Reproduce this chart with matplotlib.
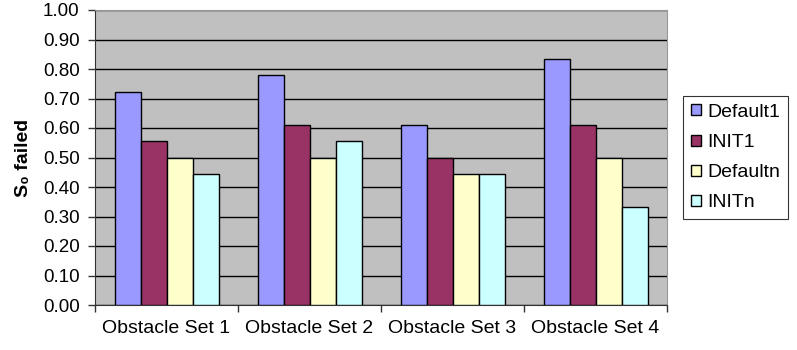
import numpy as np
import matplotlib
matplotlib.use('Agg')
import matplotlib.pyplot as plt
from matplotlib.patches import Patch

plt.rcParams['font.family'] = ['Liberation Sans', 'DejaVu Sans']
plt.rcParams['font.size'] = 10

categories = ['Obstacle Set 1', 'Obstacle Set 2', 'Obstacle Set 3', 'Obstacle Set 4']
series_names = ['Default1', 'INIT1', 'Defaultn', 'INITn']
default1 = [0.722, 0.778, 0.611, 0.833]
init1    = [0.556, 0.611, 0.500, 0.611]
defaultn = [0.500, 0.500, 0.444, 0.500]
initn    = [0.444, 0.556, 0.444, 0.333]
y_ticks  = [0.0, 0.1, 0.2, 0.3, 0.4, 0.5, 0.6, 0.7, 0.8, 0.9, 1.0]

colors = ['#9999FF', '#993366', '#FFFFCC', '#CCFFFF']
series = [default1, init1, defaultn, initn]

W, H = 797, 350
fig = plt.figure(figsize=(W / 100, H / 100), dpi=100)
ax = fig.add_axes([95 / W, 1 - 305 / H, 572 / W, 295 / H])
ax.set_facecolor('#C0C0C0')

x = np.arange(len(categories))
bw = 1 / 5.5
for i, (vals, c) in enumerate(zip(series, colors)):
    ax.bar(x + (i - 1.5) * bw, vals, width=bw, color=c,
           edgecolor='black', linewidth=1, zorder=3)

ax.set_xlim(-0.5, len(categories) - 0.5)
ax.set_ylim(0, 1.0)
ax.set_yticks(y_ticks)
ax.set_yticklabels([f'{v:.2f}' for v in y_ticks], fontsize=13.5)
ax.yaxis.grid(True, color='black', linewidth=1, zorder=1)
ax.set_axisbelow(True)

ax.set_xticks(x)
ax.set_xticklabels(categories, fontsize=14)
ax.tick_params(axis='x', which='major', length=0, pad=11)
ax.set_xticks(np.arange(-0.5, len(categories)), minor=True)
ax.tick_params(axis='x', which='minor', length=5, width=1, color='#333333')
ax.tick_params(axis='y', length=5, width=1, color='#333333', pad=6)

for side in ['left', 'bottom']:
    ax.spines[side].set_color('#333333')
ax.spines['top'].set_color('#999999')
ax.spines['right'].set_color('#999999')

ax.set_ylabel('S\u2080 failed', fontsize=14, fontweight='bold', labelpad=8)

handles = [Patch(facecolor=c, edgecolor='black', linewidth=1) for c in colors]
leg = fig.legend(handles, series_names, loc='upper left',
                 bbox_to_anchor=(683 / W, 1 - 96 / H), fontsize=14,
                 frameon=True, fancybox=False, edgecolor='black',
                 handlelength=0.5, handleheight=0.5, handletextpad=0.35,
                 labelspacing=0.68, borderpad=0.4, borderaxespad=0)
leg.get_frame().set_linewidth(0.8)

fig.savefig('out.png', dpi=100, facecolor='white')
